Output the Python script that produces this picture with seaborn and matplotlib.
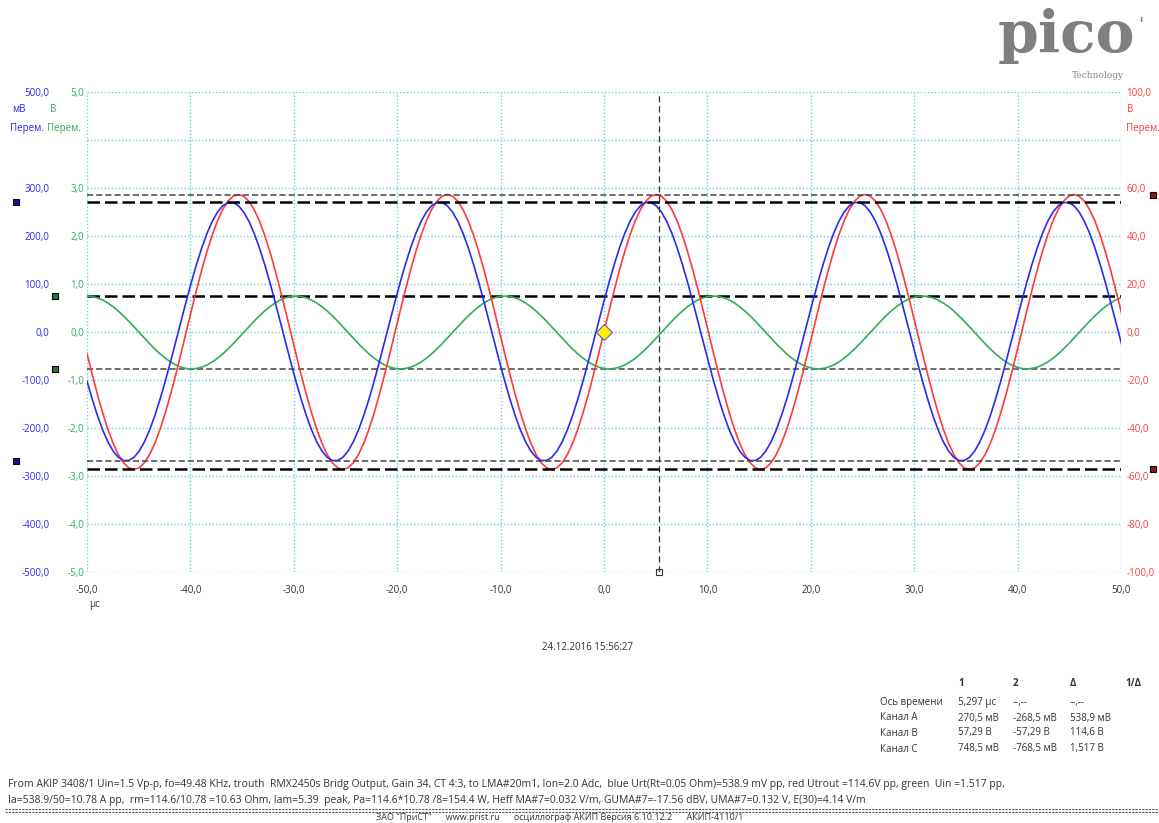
import numpy as np
import matplotlib
matplotlib.use("Agg")
import matplotlib.pyplot as plt
import matplotlib.transforms as mtransforms
from matplotlib.ticker import FuncFormatter
from matplotlib.lines import Line2D
import seaborn as sns

# ---------------- data ----------------
# sample instants, µs (uniform scope time base)
time_us = np.round(-50 + 0.505 * np.arange(200), 3)

# Channel A (blue), mV
blue_mv = [
    -102.1, -139.8, -174.0, -203.9, -228.8, -248.0, -261.1, -267.7, -267.7, -261.1,
    -248.0, -228.8, -203.9, -174.0, -139.8, -102.1, -61.9, -20.1, 22.1, 63.9,
    104.1, 141.8, 176.0, 205.9, 230.8, 250.0, 263.1, 269.7, 269.7, 263.1,
    250.0, 230.8, 205.9, 176.0, 141.8, 104.1, 63.9, 22.1, -20.1, -61.9,
    -102.1, -139.8, -174.0, -203.9, -228.8, -248.0, -261.1, -267.7, -267.7, -261.1,
    -248.0, -228.8, -203.9, -174.0, -139.8, -102.1, -61.9, -20.1, 22.1, 63.9,
    104.1, 141.8, 176.0, 205.9, 230.8, 250.0, 263.1, 269.7, 269.7, 263.1,
    250.0, 230.8, 205.9, 176.0, 141.8, 104.1, 63.9, 22.1, -20.1, -61.9,
    -102.1, -139.8, -174.0, -203.9, -228.8, -248.0, -261.1, -267.7, -267.7, -261.1,
    -248.0, -228.8, -203.9, -174.0, -139.8, -102.1, -61.9, -20.1, 22.1, 63.9,
    104.1, 141.8, 176.0, 205.9, 230.8, 250.0, 263.1, 269.7, 269.7, 263.1,
    250.0, 230.8, 205.9, 176.0, 141.8, 104.1, 63.9, 22.1, -20.1, -61.9,
    -102.1, -139.8, -174.0, -203.9, -228.8, -248.0, -261.1, -267.7, -267.7, -261.1,
    -248.0, -228.8, -203.9, -174.0, -139.8, -102.1, -61.9, -20.1, 22.1, 63.9,
    104.1, 141.8, 176.0, 205.9, 230.8, 250.0, 263.1, 269.7, 269.7, 263.1,
    250.0, 230.8, 205.9, 176.0, 141.8, 104.1, 63.9, 22.1, -20.1, -61.9,
    -102.1, -139.8, -174.0, -203.9, -228.8, -248.0, -261.1, -267.7, -267.7, -261.1,
    -248.0, -228.8, -203.9, -174.0, -139.8, -102.1, -61.9, -20.1, 22.1, 63.9,
    104.1, 141.8, 176.0, 205.9, 230.8, 250.0, 263.1, 269.7, 269.7, 263.1,
    250.0, 230.8, 205.9, 176.0, 141.8, 104.1, 63.9, 22.1, -20.1, -61.9,
]

# Channel B (red), V
red_v = [
    -8.96, -17.70, -26.01, -33.67, -40.51, -46.35, -51.05, -54.49, -56.59, -57.29,
    -56.59, -54.49, -51.05, -46.35, -40.51, -33.67, -26.01, -17.70, -8.96, 0.0,
    8.96, 17.70, 26.01, 33.67, 40.51, 46.35, 51.05, 54.49, 56.59, 57.29,
    56.59, 54.49, 51.05, 46.35, 40.51, 33.67, 26.01, 17.70, 8.96, 0.0,
    -8.96, -17.70, -26.01, -33.67, -40.51, -46.35, -51.05, -54.49, -56.59, -57.29,
    -56.59, -54.49, -51.05, -46.35, -40.51, -33.67, -26.01, -17.70, -8.96, 0.0,
    8.96, 17.70, 26.01, 33.67, 40.51, 46.35, 51.05, 54.49, 56.59, 57.29,
    56.59, 54.49, 51.05, 46.35, 40.51, 33.67, 26.01, 17.70, 8.96, 0.0,
    -8.96, -17.70, -26.01, -33.67, -40.51, -46.35, -51.05, -54.49, -56.59, -57.29,
    -56.59, -54.49, -51.05, -46.35, -40.51, -33.67, -26.01, -17.70, -8.96, 0.0,
    8.96, 17.70, 26.01, 33.67, 40.51, 46.35, 51.05, 54.49, 56.59, 57.29,
    56.59, 54.49, 51.05, 46.35, 40.51, 33.67, 26.01, 17.70, 8.96, 0.0,
    -8.96, -17.70, -26.01, -33.67, -40.51, -46.35, -51.05, -54.49, -56.59, -57.29,
    -56.59, -54.49, -51.05, -46.35, -40.51, -33.67, -26.01, -17.70, -8.96, 0.0,
    8.96, 17.70, 26.01, 33.67, 40.51, 46.35, 51.05, 54.49, 56.59, 57.29,
    56.59, 54.49, 51.05, 46.35, 40.51, 33.67, 26.01, 17.70, 8.96, 0.0,
    -8.96, -17.70, -26.01, -33.67, -40.51, -46.35, -51.05, -54.49, -56.59, -57.29,
    -56.59, -54.49, -51.05, -46.35, -40.51, -33.67, -26.01, -17.70, -8.96, 0.0,
    8.96, 17.70, 26.01, 33.67, 40.51, 46.35, 51.05, 54.49, 56.59, 57.29,
    56.59, 54.49, 51.05, 46.35, 40.51, 33.67, 26.01, 17.70, 8.96, 0.0,
]

# Channel C (green), V
green_v = [
    0.7485, 0.7392, 0.7114, 0.6658, 0.6036, 0.5263, 0.4358, 0.3344, 0.2244, 0.1086,
    -0.0100, -0.1286, -0.2444, -0.3544, -0.4558, -0.5463, -0.6236, -0.6858, -0.7314, -0.7592,
    -0.7685, -0.7592, -0.7314, -0.6858, -0.6236, -0.5463, -0.4558, -0.3544, -0.2444, -0.1286,
    -0.0100, 0.1086, 0.2244, 0.3344, 0.4358, 0.5263, 0.6036, 0.6658, 0.7114, 0.7392,
    0.7485, 0.7392, 0.7114, 0.6658, 0.6036, 0.5263, 0.4358, 0.3344, 0.2244, 0.1086,
    -0.0100, -0.1286, -0.2444, -0.3544, -0.4558, -0.5463, -0.6236, -0.6858, -0.7314, -0.7592,
    -0.7685, -0.7592, -0.7314, -0.6858, -0.6236, -0.5463, -0.4558, -0.3544, -0.2444, -0.1286,
    -0.0100, 0.1086, 0.2244, 0.3344, 0.4358, 0.5263, 0.6036, 0.6658, 0.7114, 0.7392,
    0.7485, 0.7392, 0.7114, 0.6658, 0.6036, 0.5263, 0.4358, 0.3344, 0.2244, 0.1086,
    -0.0100, -0.1286, -0.2444, -0.3544, -0.4558, -0.5463, -0.6236, -0.6858, -0.7314, -0.7592,
    -0.7685, -0.7592, -0.7314, -0.6858, -0.6236, -0.5463, -0.4558, -0.3544, -0.2444, -0.1286,
    -0.0100, 0.1086, 0.2244, 0.3344, 0.4358, 0.5263, 0.6036, 0.6658, 0.7114, 0.7392,
    0.7485, 0.7392, 0.7114, 0.6658, 0.6036, 0.5263, 0.4358, 0.3344, 0.2244, 0.1086,
    -0.0100, -0.1286, -0.2444, -0.3544, -0.4558, -0.5463, -0.6236, -0.6858, -0.7314, -0.7592,
    -0.7685, -0.7592, -0.7314, -0.6858, -0.6236, -0.5463, -0.4558, -0.3544, -0.2444, -0.1286,
    -0.0100, 0.1086, 0.2244, 0.3344, 0.4358, 0.5263, 0.6036, 0.6658, 0.7114, 0.7392,
    0.7485, 0.7392, 0.7114, 0.6658, 0.6036, 0.5263, 0.4358, 0.3344, 0.2244, 0.1086,
    -0.0100, -0.1286, -0.2444, -0.3544, -0.4558, -0.5463, -0.6236, -0.6858, -0.7314, -0.7592,
    -0.7685, -0.7592, -0.7314, -0.6858, -0.6236, -0.5463, -0.4558, -0.3544, -0.2444, -0.1286,
    -0.0100, 0.1086, 0.2244, 0.3344, 0.4358, 0.5263, 0.6036, 0.6658, 0.7114, 0.7392,
]

# cursors
cursor_time_us = 5.297
cursor_blue_mv = [270.5, -268.5]
cursor_red_v = [57.29, -57.29]
cursor_green_v = [0.7485, -0.7685]
trigger_time_us = 0.0
trigger_level = 0.0

# axes ticks (the second-from-top label on each scale is hidden behind the unit header)
x_ticks = [-50, -40, -30, -20, -10, 0, 10, 20, 30, 40, 50]
blue_ticks = [-500, -400, -300, -200, -100, 0, 100, 200, 300, 400, 500]
green_ticks = [-5, -4, -3, -2, -1, 0, 1, 2, 3, 4, 5]
red_ticks = [-100, -80, -60, -40, -20, 0, 20, 40, 60, 80, 100]
blue_hidden, green_hidden, red_hidden = 400, 4, 80

# measurement table
table_header = ["1", "2", "Δ", "1/Δ"]
table_rows = ["Ось времени", "Канал A", "Канал B", "Канал C"]
table_col1 = ["5,297 µс", "270,5 мВ", "57,29 В", "748,5 мВ"]
table_col2 = ["--,--", "-268,5 мВ", "-57,29 В", "-768,5 мВ"]
table_col3 = ["--,--", "538,9 мВ", "114,6 В", "1,517 В"]

timestamp = "24.12.2016 15:56:27"
note_line1 = ("From AKIP 3408/1 Uin=1.5 Vp-p, fo=49.48 KHz, trouth  RMX2450s Bridg Output, Gain 34, CT 4:3, "
              "to LMA#20m1, Ion=2.0 Adc,  blue Urt(Rt=0.05 Ohm)=538.9 mV pp, red Utrout =114.6V pp, green  Uin =1.517 pp,")
note_line2 = ("Ia=538.9/50=10.78 A pp,  rm=114.6/10.78 =10.63 Ohm, Iam=5.39  peak, Pa=114.6*10.78 /8=154.4 W, "
              "Heff MA#7=0.032 V/m, GUMA#7=-17.56 dBV, UMA#7=0.132 V, E(30)=4.14 V/m")
footer = "ЗАО \"ПриСТ\"      www.prist.ru      осциллограф АКИП Версия 6.10.12.2      АКИП-4110/1"

# ---------------- style ----------------
sns.set_style("white")
plt.rcParams['font.family'] = ['Open Sans', 'DejaVu Sans']
BLUE = '#2a2af0'
RED = '#ff3a3a'
GREEN = '#2fae5a'
GRID = '#66cfdc'
TXT = '#333333'

W, H = 1159, 823
fig = plt.figure(figsize=(W / 100, H / 100), dpi=100)
fig.patch.set_facecolor('white')


def ft(x, y, s, **kw):
    kw.setdefault('va', 'center')
    kw.setdefault('size', 7)
    return fig.text(x / W, 1 - y / H, s, **kw)


def comma_fmt(hidden=None):
    def f(v, p):
        if hidden is not None and abs(v - hidden) < 1e-9:
            return ''
        return f"{v:.1f}".replace('.', ',')
    return FuncFormatter(f)


ax = fig.add_axes([87 / W, 1 - 572 / H, 1034 / W, 480 / H])
ax_r = ax.twinx()
ax_b = ax.twinx()

sns.lineplot(x=time_us, y=green_v, ax=ax, color=GREEN, lw=1.2, zorder=3)
sns.lineplot(x=time_us, y=red_v, ax=ax_r, color=RED, lw=1.2)
sns.lineplot(x=time_us, y=blue_mv, ax=ax_b, color=BLUE, lw=1.2)

ax.set_xlim(-50, 50)
ax.set_ylim(-5, 5)
ax_r.set_ylim(-100, 100)
ax_b.set_ylim(-500, 500)
for a in (ax, ax_r, ax_b):
    a.set_xlabel('')
    a.set_ylabel('')
    for s in a.spines.values():
        s.set_visible(False)

ax.set_xticks(x_ticks)
ax.xaxis.set_major_formatter(comma_fmt())
ax.tick_params(axis='x', length=0, pad=9, labelsize=7, labelcolor=TXT)
ax.set_yticks(green_ticks)
ax.yaxis.set_major_formatter(comma_fmt(green_hidden))
ax.tick_params(axis='y', length=0, pad=2, labelsize=7, labelcolor=GREEN)
ax.grid(True, color=GRID, linestyle=(0, (1, 1.5)), linewidth=1.0)

ax_b.yaxis.tick_left()
ax_b.set_yticks(blue_ticks)
ax_b.yaxis.set_major_formatter(comma_fmt(blue_hidden))
ax_b.tick_params(axis='y', length=0, pad=27, labelsize=7, labelcolor=BLUE)

ax_r.set_yticks(red_ticks)
ax_r.yaxis.set_major_formatter(comma_fmt(red_hidden))
ax_r.tick_params(axis='y', length=0, pad=4, labelsize=7, labelcolor=RED)

# horizontal cursor lines
bold = dict(color='black', lw=1.8, dashes=(5, 2))
light = dict(color='#444444', lw=1.1, dashes=(4, 2))
ax_b.axhline(cursor_blue_mv[0], **bold)
ax_b.axhline(cursor_blue_mv[1], **light)
ax_r.axhline(cursor_red_v[0], **light)
ax_r.axhline(cursor_red_v[1], **bold)
ax.axhline(cursor_green_v[0], **bold)
ax.axhline(cursor_green_v[1], **light)

# vertical time cursor
ax_b.axvline(cursor_time_us, color='#333333', lw=0.9, dashes=(5, 3))
ax.plot([cursor_time_us], [-5], ls='none', marker='s', ms=5, mfc='white', mec='#333333',
        mew=0.8, clip_on=False, zorder=10)

# cursor handles beside the axes
tb = mtransforms.blended_transform_factory(ax_b.transAxes, ax_b.transData)
ax_b.plot([-0.0687] * 2, cursor_blue_mv, ls='none', marker='s', ms=5, mfc='#1010a0', mec='black',
          mew=0.8, transform=tb, clip_on=False)
tg = mtransforms.blended_transform_factory(ax.transAxes, ax.transData)
ax.plot([-0.031] * 2, cursor_green_v, ls='none', marker='s', ms=5, mfc='#1f7a40', mec='black',
        mew=0.8, transform=tg, clip_on=False)
tr = mtransforms.blended_transform_factory(ax_r.transAxes, ax_r.transData)
ax_r.plot([1.031] * 2, cursor_red_v, ls='none', marker='s', ms=5, mfc='#a01010', mec='black',
          mew=0.8, transform=tr, clip_on=False)

# trigger marker
ax_b.plot([trigger_time_us], [trigger_level], ls='none', marker='D', ms=8, mfc='#ffee00',
          mec='#6060d0', mew=0.8, zorder=12)

# unit headers
ft(12, 110, "мВ", color=BLUE)
ft(50, 110, "В", color=GREEN)
ft(10, 128, "Перем.", color=BLUE)
ft(47, 128, "Перем.", color=GREEN)
ft(1127, 110, "В", color=RED)
ft(1126, 128, "Перем.", color=RED)
ft(95, 604, "µс", color=TXT, ha='center')

# logo
ft(1066, 36, "pico", family='DejaVu Serif', size=42, weight='bold', color='#7f7f7f', ha='center')
ft(1141, 26, "'", family='DejaVu Serif', size=14, color='#7f7f7f', ha='center')
ft(1098, 76, "Technology", family='DejaVu Serif', size=6.5, color='#888888', ha='center')

# timestamp
ft(587, 648, timestamp, color=TXT, ha='center')

# table
col_x = [958, 1013, 1070, 1125]
for cx, h in zip(col_x, table_header):
    ft(cx, 684, h, color=TXT, weight='bold')
row_y = [702, 718, 733, 749]
for ry, lab, c1, c2, c3 in zip(row_y, table_rows, table_col1, table_col2, table_col3):
    ft(880, ry, lab, color=TXT)
    ft(col_x[0], ry, c1, color=TXT)
    ft(col_x[1], ry, c2, color=TXT)
    ft(col_x[2], ry, c3, color=TXT)

# notes
ft(8, 785, note_line1, color=TXT, size=7.5)
ft(8, 801, note_line2, color=TXT, size=7.5)
for yy in (809, 812):
    fig.add_artist(Line2D([5 / W, 1.0], [1 - yy / H] * 2, transform=fig.transFigure,
                          color='#555555', lw=0.8, ls=(0, (2, 1))))
ft(560, 817.5, footer, color=TXT, ha='center', size=6.5)

fig.savefig("out.png", dpi=100)
